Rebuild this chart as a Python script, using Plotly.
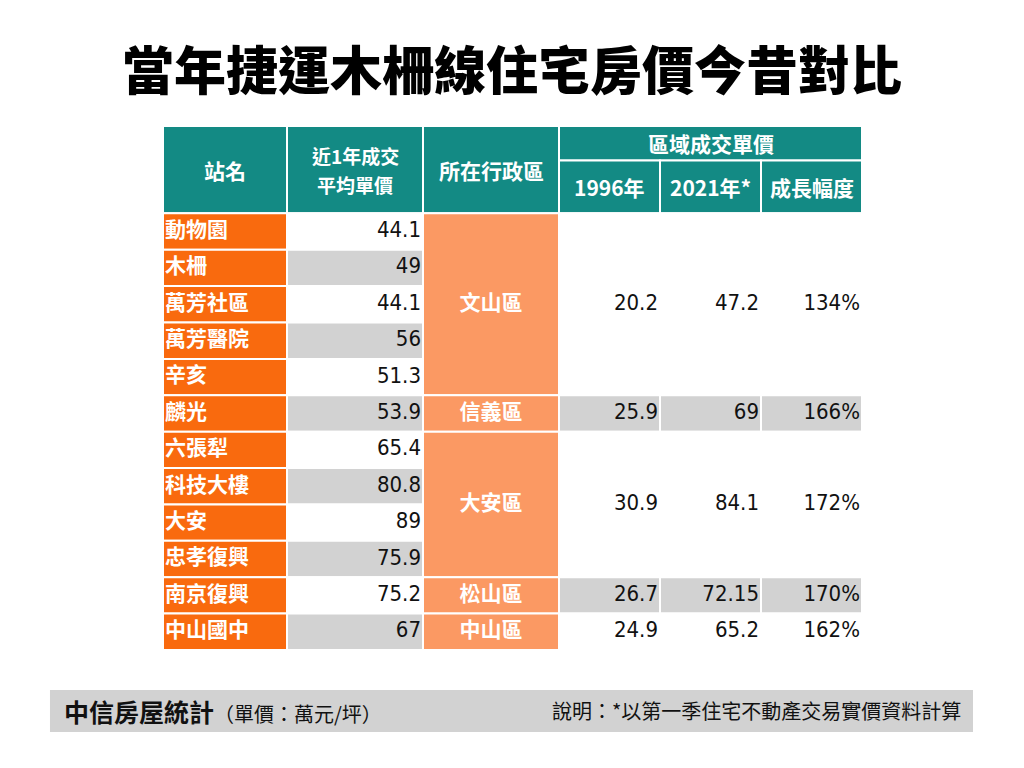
import plotly.graph_objects as go

# ---------------- data ----------------
STATIONS = ["動物園", "木柵", "萬芳社區", "萬芳醫院", "辛亥", "麟光",
            "六張犁", "科技大樓", "大安", "忠孝復興", "南京復興", "中山國中"]
RECENT_PRICE = [44.1, 49, 44.1, 56, 51.3, 53.9, 65.4, 80.8, 89, 75.9, 75.2, 67]

DISTRICTS = ["文山區", "信義區", "大安區", "松山區", "中山區"]
DISTRICT_ROWS = [5, 1, 4, 1, 1]
PRICE_1996 = [20.2, 25.9, 30.9, 26.7, 24.9]
PRICE_2021 = [47.2, 69, 84.1, 72.15, 65.2]
GROWTH_PCT = [134, 166, 172, 170, 162]

HEADERS = [["站名"], ["近1年成交", "平均單價"], ["所在行政區"]]
GROUP_HEADER = "區域成交單價"
SUB_HEADERS = ["1996年", "2021年*", "成長幅度"]

TITLE = "當年捷運木柵線住宅房價今昔對比"
SOURCE = "中信房屋統計"
UNIT = "（單價：萬元/坪）"
NOTE = "說明：*以第一季住宅不動產交易實價資料計算"

# ---------------- style ----------------
TEAL = "#138A84"
ORANGE = "#F96A0E"
LIGHT_ORANGE = "#FB9963"
GRAY = "#D2D2D2"
WHITE = "#FFFFFF"
CJK = "Noto Sans CJK TC"
NUM = "DejaVu Sans Condensed, Noto Sans CJK TC"

COL_W = [124, 136, 136, 101, 101, 101]
edges = [0]
for w in COL_W:
    edges.append(edges[-1] + w)
n = len(STATIONS)
HEAD_TOP = -2.4
HEAD_SPLIT = -1.45

fig = go.Figure()
shapes = []


def cell(x0, x1, y0, y1, color):
    shapes.append(dict(type="rect", xref="x", yref="y", x0=x0, x1=x1, y0=y0, y1=y1,
                       fillcolor=color, line=dict(color=WHITE, width=2), layer="below"))


# header cells
for c in range(3):
    cell(edges[c], edges[c + 1], HEAD_TOP, 0, TEAL)
cell(edges[3], edges[6], HEAD_TOP, HEAD_SPLIT, TEAL)
for c in range(3, 6):
    cell(edges[c], edges[c + 1], HEAD_SPLIT, 0, TEAL)

# station rows
for i in range(n):
    cell(edges[0], edges[1], i, i + 1, ORANGE)
    cell(edges[1], edges[2], i, i + 1, GRAY if i % 2 else WHITE)

# district groups
starts = []
s = 0
for k, span in enumerate(DISTRICT_ROWS):
    starts.append(s)
    cell(edges[2], edges[3], s, s + span, LIGHT_ORANGE)
    for c in range(3, 6):
        cell(edges[c], edges[c + 1], s, s + span, GRAY if k % 2 else WHITE)
    s += span
centers = [st + sp / 2 for st, sp in zip(starts, DISTRICT_ROWS)]
row_centers = [i + 0.5 for i in range(n)]


def txt(x, y, text, pos, color, size, family, weight="normal"):
    fig.add_trace(go.Scatter(x=x, y=y, text=text, mode="text", textposition=pos,
                             textfont=dict(color=color, size=size, family=family, weight=weight),
                             hoverinfo="skip", showlegend=False))


txt([edges[0] + 2] * n, row_centers, STATIONS, "middle right", WHITE, 21, CJK, "bold")
txt([edges[2] - 2] * n, row_centers, [f"{v:g}" for v in RECENT_PRICE], "middle left", "#111", 22, NUM)
txt([(edges[2] + edges[3]) / 2] * len(DISTRICTS), centers, DISTRICTS, "middle center", WHITE, 21, CJK, "bold")
txt([edges[4] - 2] * len(DISTRICTS), centers, [f"{v:g}" for v in PRICE_1996], "middle left", "#111", 22, NUM)
txt([edges[5] - 2] * len(DISTRICTS), centers, [f"{v:g}" for v in PRICE_2021], "middle left", "#111", 22, NUM)
txt([edges[6] - 2] * len(DISTRICTS), centers, [f"{v:g}%" for v in GROWTH_PCT], "middle left", "#111", 22, NUM)

annotations = []
hfont = dict(color=WHITE, size=21, family=CJK, weight="bold")
for c in range(3):
    lines = HEADERS[c]
    mid = HEAD_TOP / 2
    step = 0.8
    for j, line in enumerate(lines):
        y = mid + (j - (len(lines) - 1) / 2) * step
        f = hfont if len(lines) == 1 else dict(hfont, size=19)
        annotations.append(dict(xref="x", yref="y", x=(edges[c] + edges[c + 1]) / 2, y=y,
                                text=line, showarrow=False, font=f, borderpad=0))
annotations.append(dict(xref="x", yref="y", x=(edges[3] + edges[6]) / 2, y=(HEAD_TOP + HEAD_SPLIT) / 2,
                        text=GROUP_HEADER, showarrow=False, font=hfont))
for j, h in enumerate(SUB_HEADERS):
    c = 3 + j
    annotations.append(dict(xref="x", yref="y", x=(edges[c] + edges[c + 1]) / 2, y=HEAD_SPLIT / 2,
                            text=h, showarrow=False, font=hfont))

# footer band (paper coords relative to plot area)
shapes.append(dict(type="rect", xref="paper", yref="paper", x0=-0.1617, x1=1.1588,
                   y0=-0.1565, y1=-0.0763, fillcolor=GRAY, line=dict(width=0), layer="below"))
annotations.append(dict(xref="paper", yref="paper", x=-0.1445, y=-0.1164, xanchor="left", yanchor="middle",
                        text=f"<b>{SOURCE}</b><span style='font-size:20px'>{UNIT}</span>",
                        showarrow=False, font=dict(color="#111", size=25, family=CJK)))
annotations.append(dict(xref="paper", yref="paper", x=1.1445, y=-0.1164, xanchor="right", yanchor="middle",
                        text=NOTE, showarrow=False, font=dict(color="#111", size=20, family=CJK)))

# page body has an 8px margin; size the figure so the plot area lands where it should
fig.update_layout(
    width=1016, height=760,
    margin=dict(l=155, r=162, t=118, b=118),
    paper_bgcolor=WHITE, plot_bgcolor=WHITE,
    title=dict(text=TITLE, x=(512 - 8) / 1016, xanchor="center", y=1 - 64 / 760, yanchor="middle",
               yref="container", xref="container",
               font=dict(family=CJK, size=52, color="#000", weight=900)),
    xaxis=dict(range=[0, edges[-1]], visible=False, fixedrange=True),
    yaxis=dict(range=[n, HEAD_TOP], visible=False, fixedrange=True),
    shapes=shapes, annotations=annotations,
)

fig.write_html("out.html", config={"displayModeBar": False})
